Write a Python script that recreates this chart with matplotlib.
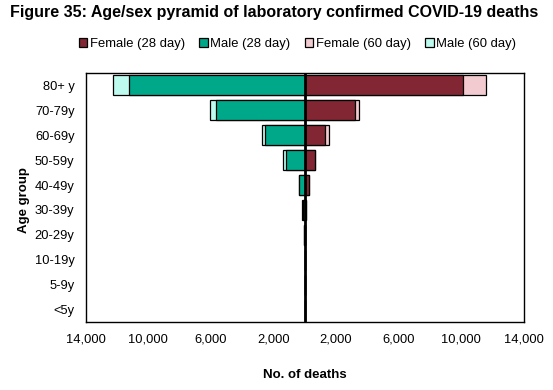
import matplotlib
matplotlib.use("Agg")
import matplotlib.pyplot as plt
import numpy as np

plt.rcParams['font.family'] = ['Liberation Sans', 'DejaVu Sans']

# age groups, bottom to top
ages = ['<5y', '5-9y', '10-19y', '20-29y', '30-39y', '40-49y', '50-59y', '60-69y', '70-79y', '80+ y']
male_28 = [2, 1, 6, 50, 140, 340, 1190, 2530, 5670, 11250]
male_60 = [2, 1, 7, 55, 150, 370, 1360, 2760, 6030, 12270]
female_28 = [1, 1, 3, 25, 100, 280, 640, 1320, 3210, 10150]
female_60 = [1, 1, 4, 30, 110, 300, 690, 1550, 3480, 11580]

xticks = [-14000, -10000, -6000, -2000, 2000, 6000, 10000, 14000]

c_f28 = '#832633'
c_m28 = '#00A88A'
c_f60 = '#F2CBD0'
c_m60 = '#BDFBEF'

fig = plt.figure(figsize=(5.53, 3.9), dpi=100)
ax = fig.add_axes([0.155, 0.174, 0.792, 0.639])

y = np.arange(len(ages))
h = 0.8
# 60 day bars behind, 28 day on top
ax.barh(y, female_60, height=h, color=c_f60, edgecolor='black', linewidth=0.9, label='Female (60 day)', zorder=2)
ax.barh(y, [-v for v in male_60], height=h, color=c_m60, edgecolor='black', linewidth=0.9, label='Male (60 day)', zorder=2)
ax.barh(y, female_28, height=h, color=c_f28, edgecolor='black', linewidth=0.9, label='Female (28 day)', zorder=3)
ax.barh(y, [-v for v in male_28], height=h, color=c_m28, edgecolor='black', linewidth=0.9, label='Male (28 day)', zorder=3)

ax.axvline(0, color='black', linewidth=2, zorder=4)

ax.set_xlim(-14000, 14000)
ax.set_ylim(-0.5, len(ages) - 0.5)
ax.set_xticks(xticks)
ax.set_xticklabels([f'{abs(v):,}' for v in xticks], fontsize=9.3)
ax.set_yticks(y)
ax.set_yticklabels(ages, fontsize=9.3)
ax.tick_params(axis='x', length=0, pad=8)
ax.tick_params(axis='y', length=0, pad=8)
for s in ax.spines.values():
    s.set_linewidth(1)
    s.set_color('black')

ax.set_xlabel('No. of deaths', fontsize=9.5, fontweight='bold')
ax.xaxis.set_label_coords(0.5, -0.19)
ax.set_ylabel('Age group', fontsize=9.5, fontweight='bold')
ax.yaxis.set_label_coords(-0.128, 0.49)

handles, labels = ax.get_legend_handles_labels()
order = [2, 3, 0, 1]
fig.legend([handles[i] for i in order], [labels[i] for i in order],
           loc='center', bbox_to_anchor=(0.538, 0.887), ncol=4, frameon=False,
           fontsize=9.4, handlelength=0.65, handleheight=0.65, handletextpad=0.2,
           columnspacing=1.1)

fig.text(0.018, 0.968, 'Figure 35: Age/sex pyramid of laboratory confirmed COVID-19 deaths',
         fontsize=11.5, fontweight='bold', va='center', ha='left')

fig.savefig('out.png', dpi=100)
